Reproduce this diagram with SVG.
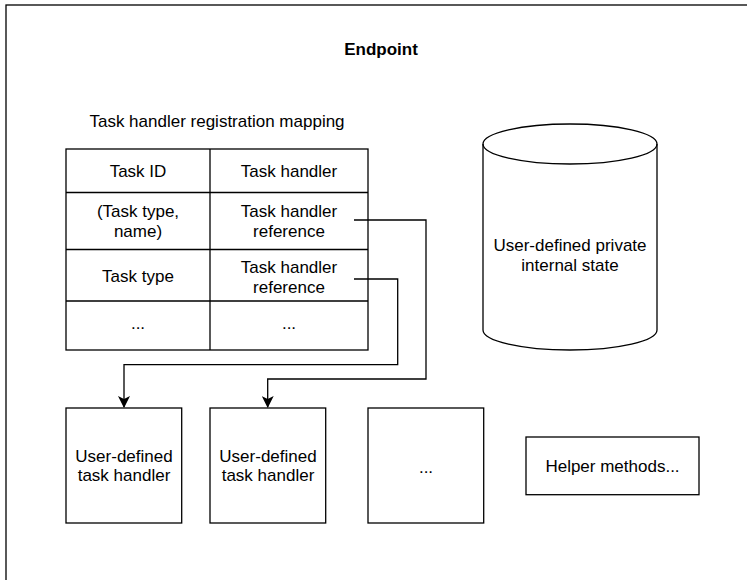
<svg xmlns="http://www.w3.org/2000/svg" width="747" height="580" viewBox="0 0 747 580">
<style>
.s{fill:#fff;stroke:#000;stroke-width:1.3}
.t{font-family:"Liberation Sans",Arial,sans-serif;font-size:17px;fill:#000;text-anchor:middle}
.b{font-weight:bold}
.c{fill:none;stroke:#000;stroke-width:1.3}
</style>
<defs>
<marker id="arr" viewBox="0 0 12 12" refX="11" refY="6" markerWidth="12" markerHeight="12" markerUnits="userSpaceOnUse" orient="auto">
<path d="M0,0 L12,6 L0,12 L3,6 Z" fill="#000"/>
</marker>
</defs>
<rect width="747" height="580" fill="#fff"/>
<g id="endpoint">
<rect class="s" x="6" y="5" width="800" height="700"/>
<text class="t b" x="381" y="55">Endpoint</text>
</g>
<g id="mapping">
<text class="t" x="217" y="127">Task handler registration mapping</text>
<rect class="s" x="66" y="149" width="302" height="201"/>
<path class="c" d="M210,149 V350 M66,192.5 H368 M66,249.5 H368 M66,301 H368"/>
<text class="t" x="138" y="177">Task ID</text>
<text class="t" x="289" y="177">Task handler</text>
<text class="t" x="138" y="217">(Task type,</text>
<text class="t" x="138" y="237">name)</text>
<text class="t" x="289" y="217">Task handler</text>
<text class="t" x="289" y="237">reference</text>
<text class="t" x="138" y="282">Task type</text>
<text class="t" x="289" y="273">Task handler</text>
<text class="t" x="289" y="293">reference</text>
<text class="t" x="138" y="329">...</text>
<text class="t" x="289" y="329">...</text>
</g>
<g id="state">
<path class="s" d="M483,144 A87,20 0 0 1 657,144 V330 A87,20 0 0 1 483,330 Z"/>
<path class="c" d="M483,144 A87,20 0 0 0 657,144"/>
<text class="t" x="570" y="251">User-defined private</text>
<text class="t" x="570" y="271">internal state</text>
</g>
<g id="handler1">
<rect class="s" x="66" y="408" width="115.7" height="115"/>
<text class="t" x="124" y="462">User-defined</text>
<text class="t" x="124" y="481">task handler</text>
</g>
<g id="handler2">
<rect class="s" x="210" y="408" width="115.7" height="115"/>
<text class="t" x="268" y="462">User-defined</text>
<text class="t" x="268" y="481">task handler</text>
</g>
<g id="handler3">
<rect class="s" x="368" y="408" width="115.7" height="115"/>
<text class="t" x="426" y="473">...</text>
</g>
<g id="helper">
<rect class="s" x="526" y="437" width="173" height="57.7"/>
<text class="t" x="612.5" y="472">Helper methods...</text>
</g>
<g id="connectors">
<path class="c" d="M354,220 H426 V379 H267.7 V407" marker-end="url(#arr)"/>
<path class="c" d="M354,279 H397.7 V364.7 H124 V407" marker-end="url(#arr)"/>
</g>
</svg>
